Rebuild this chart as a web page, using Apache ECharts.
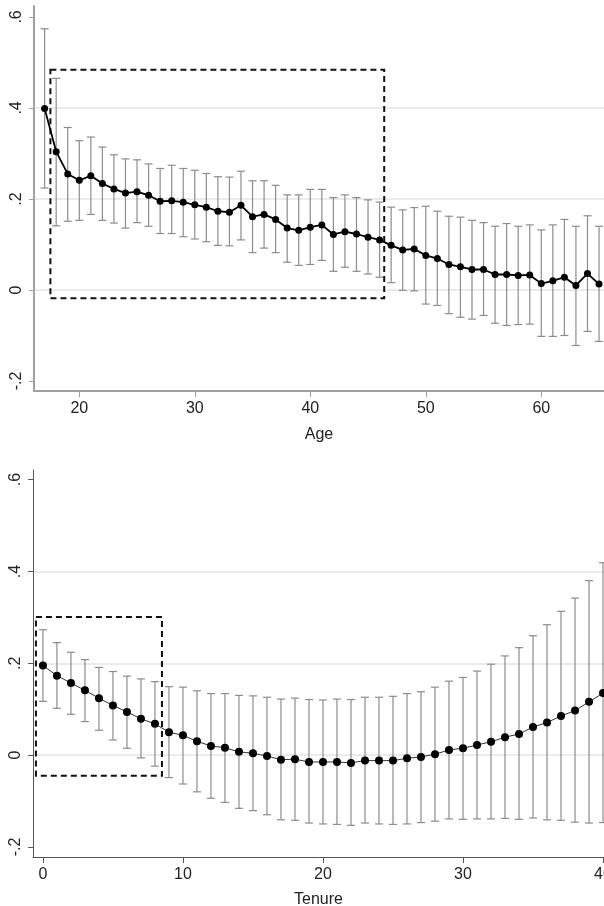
<!DOCTYPE html>
<html><head><meta charset="utf-8">
<script src="https://cdn.jsdelivr.net/npm/echarts@6/dist/echarts.min.js"></script>
<style>html,body{margin:0;padding:0;background:#fff}#c{width:604px;height:906px}</style>
</head><body><div id="c"></div>
<script>
const ageCategories = [17,18,19,20,21,22,23,24,25,26,27,28,29,30,31,32,33,34,35,36,37,38,39,40,41,42,43,44,45,46,47,48,49,50,51,52,53,54,55,56,57,58,59,60,61,62,63,64,65];
const ageCoef  = [0.399,0.304,0.255,0.241,0.251,0.234,0.222,0.213,0.216,0.208,0.195,0.196,0.193,0.187,0.182,0.173,0.171,0.186,0.161,0.166,0.155,0.136,0.131,0.138,0.143,0.122,0.128,0.123,0.116,0.110,0.098,0.088,0.090,0.076,0.069,0.056,0.051,0.045,0.045,0.034,0.034,0.032,0.033,0.014,0.020,0.028,0.010,0.036,0.013];
const ageUpper = [0.574,0.465,0.357,0.328,0.336,0.314,0.297,0.288,0.286,0.277,0.267,0.274,0.267,0.263,0.256,0.249,0.248,0.261,0.240,0.240,0.230,0.209,0.209,0.221,0.221,0.203,0.209,0.203,0.198,0.193,0.182,0.176,0.181,0.184,0.173,0.162,0.160,0.153,0.148,0.140,0.146,0.140,0.143,0.132,0.143,0.155,0.140,0.163,0.140];
const ageLower = [0.224,0.141,0.151,0.153,0.166,0.153,0.147,0.136,0.148,0.140,0.124,0.124,0.117,0.112,0.106,0.098,0.097,0.110,0.082,0.092,0.082,0.061,0.054,0.056,0.065,0.041,0.050,0.041,0.035,0.028,0.016,-0.001,-0.002,-0.031,-0.034,-0.052,-0.060,-0.064,-0.056,-0.073,-0.078,-0.076,-0.075,-0.102,-0.102,-0.100,-0.122,-0.091,-0.113];

const tenureCategories = [0,1,2,3,4,5,6,7,8,9,10,11,12,13,14,15,16,17,18,19,20,21,22,23,24,25,26,27,28,29,30,31,32,33,34,35,36,37,38,39,40];
const tenureCoef  = [0.195,0.173,0.157,0.141,0.124,0.108,0.094,0.079,0.068,0.050,0.043,0.030,0.020,0.016,0.007,0.004,-0.002,-0.010,-0.009,-0.015,-0.015,-0.015,-0.017,-0.012,-0.012,-0.012,-0.007,-0.004,0.002,0.011,0.015,0.022,0.029,0.039,0.046,0.061,0.071,0.085,0.097,0.116,0.135];
const tenureUpper = [0.273,0.245,0.224,0.208,0.191,0.182,0.172,0.166,0.160,0.149,0.148,0.140,0.134,0.134,0.130,0.129,0.126,0.122,0.124,0.121,0.120,0.122,0.121,0.126,0.126,0.128,0.134,0.138,0.148,0.161,0.169,0.183,0.198,0.216,0.234,0.260,0.284,0.313,0.342,0.380,0.419];
const tenureLower = [0.117,0.102,0.089,0.073,0.054,0.033,0.015,-0.006,-0.024,-0.049,-0.063,-0.080,-0.094,-0.103,-0.116,-0.121,-0.130,-0.141,-0.142,-0.148,-0.150,-0.151,-0.153,-0.148,-0.150,-0.151,-0.150,-0.147,-0.144,-0.139,-0.140,-0.139,-0.139,-0.138,-0.140,-0.137,-0.141,-0.142,-0.146,-0.148,-0.147];

const yTickValues = [-0.2, 0, 0.2, 0.4, 0.6];
const ageTickValues = [20, 30, 40, 50, 60];
const tenureTickValues = [0, 10, 20, 30, 40];
const ageBox = [17.5, 46.4, -0.018, 0.484];      // x0, x1, y0, y1
const tenureBox = [-0.5, 8.5, -0.045, 0.301];

function yFmt(v) {
  if (Math.abs(v) < 1e-9) return '0';
  const s = Math.abs(v).toFixed(1).replace(/^0/, '');
  return (v < 0 ? '-' : '') + s;
}

function errRender(color) {
  return function (params, api) {
    const x = api.value(0), lo = api.value(1), hi = api.value(2);
    const p1 = api.coord([x, lo]), p2 = api.coord([x, hi]);
    const w = 4;
    const st = { stroke: color, lineWidth: 1.2 };
    return { type: 'group', children: [
      { type: 'line', shape: { x1: p1[0], y1: p1[1], x2: p2[0], y2: p2[1] }, style: st },
      { type: 'line', shape: { x1: p1[0] - w, y1: p1[1], x2: p1[0] + w, y2: p1[1] }, style: st },
      { type: 'line', shape: { x1: p2[0] - w, y1: p2[1], x2: p2[0] + w, y2: p2[1] }, style: st }
    ]};
  };
}
function boxRender(params, api) {
  const a = api.coord([api.value(0), api.value(3)]);
  const b = api.coord([api.value(1), api.value(2)]);
  return { type: 'rect', shape: { x: a[0], y: a[1], width: b[0] - a[0], height: b[1] - a[1] },
    style: { fill: 'none', stroke: '#111', lineWidth: 2, lineDash: [6, 4] } };
}

function makeY(idx, axisColor, axisWidth, min, max) {
  return {
    gridIndex: idx, type: 'value', min: min, max: max,
    axisLine: { show: true, onZero: false, lineStyle: { color: axisColor, width: axisWidth } },
    axisTick: { show: true, customValues: yTickValues, length: 5, lineStyle: { color: axisColor, width: 1 } },
    axisLabel: { customValues: yTickValues, formatter: yFmt, rotate: 90, fontSize: 16, color: '#222',
      fontFamily: 'Liberation Sans, Arial, sans-serif', margin: 9 },
    splitLine: { show: true, showMinLine: false, showMaxLine: false, lineStyle: { color: '#e4e4e4', width: 1.5 } }
  };
}
function makeX(idx, axisColor, axisWidth, min, max, ticks, name, gap) {
  return {
    gridIndex: idx, type: 'value', min: min, max: max,
    name: name, nameLocation: 'middle', nameGap: gap,
    nameTextStyle: { fontSize: 16, color: '#222', fontFamily: 'Liberation Sans, Arial, sans-serif' },
    axisLine: { show: true, onZero: false, lineStyle: { color: axisColor, width: axisWidth } },
    axisTick: { show: true, customValues: ticks, length: 6, lineStyle: { color: axisColor, width: 1 } },
    axisLabel: { customValues: ticks, fontSize: 16, color: '#222', margin: 10,
      fontFamily: 'Liberation Sans, Arial, sans-serif' },
    splitLine: { show: false }
  };
}

const chart = echarts.init(document.getElementById('c'), null, { renderer: 'canvas' });
chart.setOption({
  animation: false,
  backgroundColor: '#fff',
  grid: [
    { left: 34, top: 6, width: 570, height: 385, outerBoundsMode: 'none', containLabel: false },
    { left: 33, top: 470, width: 571, height: 387, outerBoundsMode: 'none', containLabel: false }
  ],
  xAxis: [
    makeX(0, '#a0a0a0', 2, 16.08, 65.43, ageTickValues, 'Age', 36),
    makeX(1, '#555555', 1, -0.71, 40.07, tenureTickValues, 'Tenure', 35)
  ],
  yAxis: [
    makeY(0, '#a0a0a0', 2, -0.222, 0.624),
    makeY(1, '#555555', 1, -0.222, 0.621)
  ],
  series: [
    { type: 'custom', xAxisIndex: 0, yAxisIndex: 0, renderItem: errRender('#8c8c8c'),
      data: ageCategories.map((a, i) => [a, ageLower[i], ageUpper[i]]), z: 2 },
    { type: 'custom', xAxisIndex: 0, yAxisIndex: 0, renderItem: boxRender, data: [ageBox], z: 3 },
    { type: 'line', xAxisIndex: 0, yAxisIndex: 0, data: ageCategories.map((a, i) => [a, ageCoef[i]]),
      symbol: 'circle', symbolSize: 7, lineStyle: { color: '#000', width: 1.8 },
      itemStyle: { color: '#000' }, z: 4 },
    { type: 'custom', xAxisIndex: 1, yAxisIndex: 1, renderItem: errRender('#8c8c8c'),
      data: tenureCategories.map((a, i) => [a, tenureLower[i], tenureUpper[i]]), z: 2 },
    { type: 'custom', xAxisIndex: 1, yAxisIndex: 1, renderItem: boxRender, data: [tenureBox], z: 3 },
    { type: 'line', xAxisIndex: 1, yAxisIndex: 1, data: tenureCategories.map((a, i) => [a, tenureCoef[i]]),
      symbol: 'circle', symbolSize: 8, lineStyle: { color: '#333', width: 1 },
      itemStyle: { color: '#000' }, z: 4 }
  ]
});
</script>
</body></html>
